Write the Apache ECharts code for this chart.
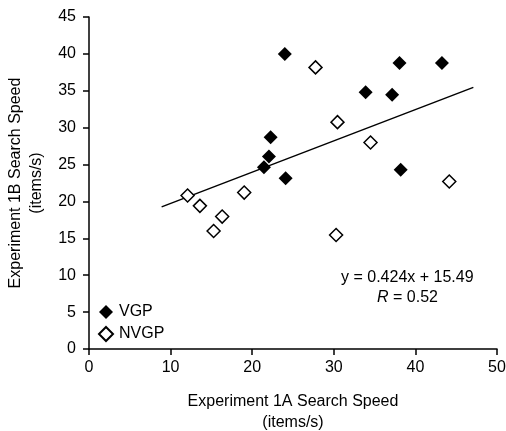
<!DOCTYPE html>
<html>
<head>
<meta charset="utf-8">
<script src="https://cdn.jsdelivr.net/npm/echarts@6/dist/echarts.min.js"></script>
<style>
html,body{margin:0;padding:0;background:#fff;}
#c{width:506px;height:431px;}
</style>
</head>
<body>
<div id="c"></div>
<script>
const vgpX = [24.0, 38.05, 43.25, 33.9, 37.15, 22.26, 22.05, 21.44, 24.1, 38.2];
const vgpY = [40.0, 38.75, 38.75, 34.8, 34.45, 28.7, 26.1, 24.65, 23.15, 24.3];
const nvgpX = [27.76, 30.45, 34.5, 44.15, 30.28, 12.08, 13.59, 15.27, 16.32, 19.02];
const nvgpY = [38.17, 30.75, 27.99, 22.7, 15.46, 20.8, 19.4, 16.0, 17.95, 21.2];
const trendX = [8.9, 47.1];
const trendY = [19.26, 35.46];
const xTicks = [0, 10, 20, 30, 40, 50];
const yTicks = [0, 5, 10, 15, 20, 25, 30, 35, 40, 45];
const seriesNames = ['VGP', 'NVGP'];
const xTitle = 'Experiment 1A Search Speed\n(items/s)';
const yTitle = 'Experiment 1B Search Speed\n(items/s)';
const eqText = 'y = 0.424x + 15.49';

const FONT = 'Liberation Sans, Arial, sans-serif';
const zip = (a, b) => a.map((v, i) => [v, b[i]]);

const chart = echarts.init(document.getElementById('c'));
chart.setOption({
  animation: false,
  backgroundColor: '#fff',
  textStyle: { fontFamily: FONT, color: '#000' },
  grid: { left: 89, right: 9, top: 17, bottom: 82, containLabel: false, outerBoundsMode: 'none' },
  xAxis: {
    type: 'value', min: 0, max: 50, interval: 10,
    name: xTitle, nameLocation: 'middle', nameGap: 42,
    nameTextStyle: { fontSize: 16, color: '#000', fontFamily: FONT, lineHeight: 21 },
    axisLine: { show: true, lineStyle: { color: '#000', width: 1.5 } },
    axisTick: { show: true, length: 6, lineStyle: { color: '#000', width: 1.5 } },
    axisLabel: { fontSize: 16, color: '#000', fontFamily: FONT, margin: 11 },
    splitLine: { show: false }
  },
  yAxis: {
    type: 'value', min: 0, max: 45, interval: 5,
    name: yTitle, nameLocation: 'middle', nameGap: 36, nameRotate: 90,
    nameTextStyle: { fontSize: 16, color: '#000', fontFamily: FONT, lineHeight: 21 },
    axisLine: { show: true, lineStyle: { color: '#000', width: 1.5 } },
    axisTick: { show: true, length: 6, lineStyle: { color: '#000', width: 1.5 } },
    axisLabel: { fontSize: 16, color: '#000', fontFamily: FONT, margin: 13 },
    splitLine: { show: false }
  },
  legend: {
    left: 93, top: 299, orient: 'vertical', itemGap: 6,
    itemWidth: 14, itemHeight: 14,
    textStyle: { fontSize: 16, color: '#000', fontFamily: FONT, padding: [0, 0, 0, 1] },
    data: [
      { name: seriesNames[0], icon: 'diamond' },
      { name: seriesNames[1], icon: 'diamond' }
    ]
  },
  series: [
    {
      name: 'trend', type: 'line', data: zip(trendX, trendY),
      showSymbol: false, symbol: 'none',
      lineStyle: { color: '#000', width: 1.5 }, silent: true, z: 1
    },
    {
      name: seriesNames[0], type: 'scatter', data: zip(vgpX, vgpY),
      symbol: 'diamond', symbolSize: 14,
      itemStyle: { color: '#000', borderColor: '#000', borderWidth: 0, opacity: 1 }, z: 3
    },
    {
      name: seriesNames[1], type: 'scatter', data: zip(nvgpX, nvgpY),
      symbol: 'diamond', symbolSize: 13,
      itemStyle: { color: '#fff', borderColor: '#000', borderWidth: 1.5, opacity: 1 }, z: 3
    }
  ],
  graphic: [
    {
      type: 'text', left: 341, top: 270,
      style: {
        text: eqText, fontSize: 16, fontFamily: FONT, fill: '#000'
      }
    },
    {
      type: 'text', left: 377, top: 290,
      style: {
        text: '{i|R} = 0.52',
        fontSize: 16, fontFamily: FONT, fill: '#000',
        rich: { i: { fontStyle: 'italic', fontSize: 16, fontFamily: FONT, fill: '#000' } }
      }
    }
  ]
});
</script>
</body>
</html>
